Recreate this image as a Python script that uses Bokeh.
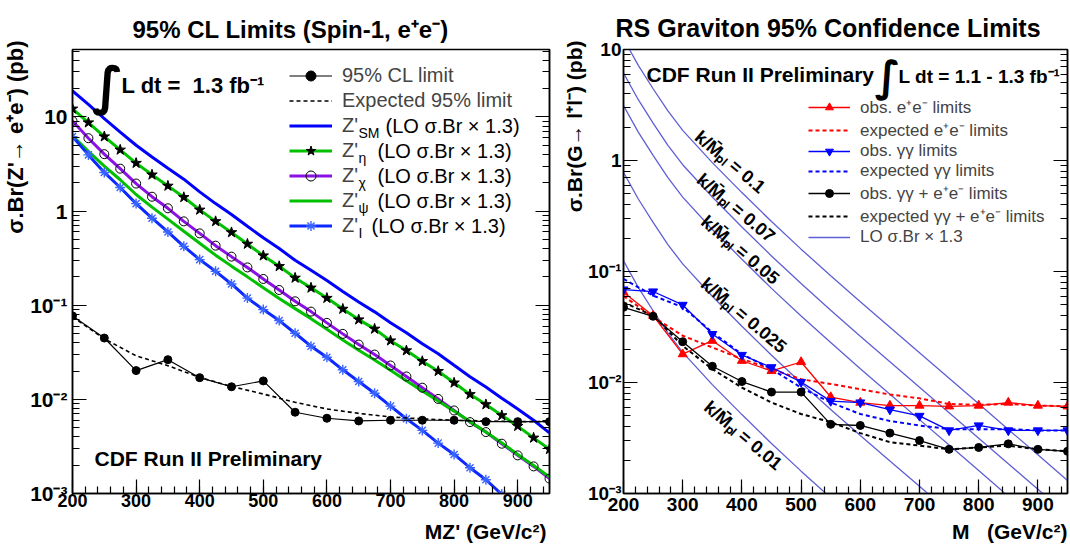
import math
from bokeh.plotting import figure
from bokeh.layouts import row
from bokeh.models import (FixedTicker, CustomJSTickFormatter, LogAxis, Legend, LegendItem, Label,
                          Title)
from bokeh.embed import file_html
from bokeh.resources import INLINE

FONT = "Liberation Sans"
NB = "\u00a0"

# ---------------- left panel: Z' (spin-1, e+e-) ----------------
zp_mass = [200, 225, 250, 275, 300, 325, 350, 375, 400, 425, 450, 475, 500, 525, 550,
           575, 600, 625, 650, 675, 700, 725, 750, 775, 800, 825, 850, 875, 900, 925, 950]
zp_sm = [18.9, 13.6, 9.6, 6.9, 5.0, 3.75, 2.85, 2.18, 1.6, 1.2, 0.92, 0.69, 0.52, 0.40, 0.30,
         0.235, 0.183, 0.14, 0.108, 0.085, 0.065, 0.051, 0.039, 0.0305, 0.023, 0.0174, 0.0135,
         0.0103, 0.0079, 0.006, 0.0044]
zp_eta = [12.2, 8.7, 6.18, 4.47, 3.23, 2.43, 1.85, 1.40, 1.03, 0.777, 0.593, 0.447, 0.336, 0.259,
          0.195, 0.153, 0.119, 0.0912, 0.0703, 0.056, 0.042, 0.033, 0.0254, 0.0199, 0.015, 0.0113,
          0.00883, 0.00675, 0.0052, 0.0039, 0.00295]
zp_chi = [9.07, 5.94, 4.02, 2.82, 1.96, 1.42, 1.07, 0.777, 0.579, 0.429, 0.328, 0.252, 0.19,
          0.145, 0.110, 0.0855, 0.0649, 0.0496, 0.0382, 0.0299, 0.0229, 0.0175, 0.0133, 0.0101,
          0.00762, 0.00573, 0.00449, 0.00338, 0.00254, 0.00194, 0.00144]
zp_psi = [6.3, 4.3, 3.0, 2.15, 1.5, 1.1, 0.82, 0.61, 0.455, 0.34, 0.26, 0.2, 0.153, 0.118, 0.092,
          0.072, 0.0555, 0.0428, 0.0333, 0.0262, 0.0204, 0.0158, 0.0123, 0.0096, 0.0075, 0.0058,
          0.0045, 0.00345, 0.0026, 0.00198, 0.0015]
zp_i = [6.18, 3.95, 2.57, 1.78, 1.2, 0.84, 0.60, 0.422, 0.305, 0.229, 0.168, 0.119, 0.0898,
        0.0687, 0.0504, 0.0367, 0.028, 0.0206, 0.0155, 0.0116, 0.00848, 0.00622, 0.00468,
        0.00343, 0.0026, 0.00188, 0.0014, 0.00098, 0.00072, 0.00053, 0.00039]

lim_mass = [200, 250, 300, 350, 400, 450, 500, 550, 600, 650, 700, 750, 800, 850, 900, 950]
obs_limit = [0.077, 0.0448, 0.0202, 0.0264, 0.0170, 0.0136, 0.0157, 0.0073, 0.0063, 0.0059,
             0.0060, 0.0060, 0.0060, 0.0058, 0.0058, 0.0058]
exp_limit = [0.075, 0.044, 0.029, 0.0228, 0.0171, 0.0137, 0.0114, 0.0093, 0.0079, 0.0071,
             0.0065, 0.0062, 0.0060, 0.0059, 0.0058, 0.0058]

# ---------------- right panel: RS graviton ----------------
g_mass = [200, 250, 300, 350, 400, 450, 500, 550, 600, 650, 700, 750, 800, 850, 900, 950]
ee_obs = [0.065, 0.040, 0.018, 0.0238, 0.0157, 0.0127, 0.0153, 0.0074, 0.0066, 0.0062, 0.0062,
          0.0061, 0.0062, 0.0066, 0.0062, 0.0061]
ee_exp = [0.060, 0.039, 0.0264, 0.0207, 0.0163, 0.0132, 0.0107, 0.0097, 0.0087, 0.0078, 0.0072,
          0.0064, 0.0063, 0.0064, 0.0062, 0.0061]
gg_obs = [0.0687, 0.066, 0.050, 0.0273, 0.0177, 0.0137, 0.0101, 0.0068, 0.0066, 0.0057, 0.0050,
          0.0037, 0.0041, 0.0037, 0.0037, 0.0037]
gg_exp = [0.0857, 0.0607, 0.0477, 0.0283, 0.018, 0.0132, 0.009, 0.0066, 0.0052, 0.0045, 0.0041,
          0.0038, 0.0038, 0.0038, 0.0037, 0.0037]
comb_obs = [0.0476, 0.0395, 0.0233, 0.014, 0.0102, 0.0082, 0.0082, 0.0042, 0.0041, 0.0035,
            0.0030, 0.0025, 0.0026, 0.0028, 0.0025, 0.0024]
comb_exp = [0.0528, 0.040, 0.0214, 0.0132, 0.009, 0.0066, 0.0052, 0.0044, 0.0035, 0.0029,
            0.0027, 0.0025, 0.0026, 0.0027, 0.0025, 0.0024]

lo_mass = [200, 225, 250, 275, 300, 350, 400, 450, 500, 550, 600, 650, 700, 750, 800, 850, 900, 950]
lo_k010 = [12.5, 7.2, 4.43, 2.8, 1.87, 0.957, 0.514, 0.282, 0.159, 0.0915, 0.0533, 0.0314,
           0.0185, 0.0109, 0.00642, 0.00378, 0.00223, 0.00131]
lo_k007 = [6.13, 3.53, 2.17, 1.37, 0.916, 0.469, 0.252, 0.138, 0.0779, 0.0448, 0.0261, 0.0154,
           0.00907, 0.00534, 0.00315, 0.00185, 0.00109, 0.000642]
lo_k005 = [3.13, 1.8, 1.11, 0.7, 0.468, 0.239, 0.129, 0.0705, 0.0398, 0.0229, 0.0133, 0.00785,
           0.00463, 0.00273, 0.00161, 0.000945, 0.000558, 0.000328]
lo_k0025 = [0.781, 0.45, 0.277, 0.175, 0.117, 0.0598, 0.0321, 0.0176, 0.00994, 0.00572, 0.00333,
            0.00196, 0.00116, 0.000681, 0.000401, 0.000236, 0.000139, 0.0000819]
lo_k001 = [0.125, 0.072, 0.0443, 0.028, 0.0187, 0.00957, 0.00514, 0.00282, 0.00159, 0.000915,
           0.000533, 0.000314, 0.000185, 0.000109, 0.0000642, 0.0000378, 0.0000223, 0.0000131]
lo_labels = ["k/M\u0304\u209a\u2097 = 0.1", "k/M\u0304\u209a\u2097 = 0.07", "k/M\u0304\u209a\u2097 = 0.05",
             "k/M\u0304\u209a\u2097 = 0.025", "k/M\u0304\u209a\u2097 = 0.01"]

x_ticks = [200, 300, 400, 500, 600, 700, 800, 900]
y_ticks = [1e-3, 1e-2, 1e-1, 1, 10]

x_minor = [m for m in range(220, 950, 20)]
y_minor = [k * 10.0 ** e for e in range(-3, 2) for k in range(2, 10)]

yfmt_code = """
const e = Math.round(Math.log10(tick));
if (e === 0) return "1";
if (e === 1) return "10";
const s = {"-1": "\u207b\u00b9", "-2": "\u207b\u00b2", "-3": "\u207b\u00b3"};
return "10" + s[String(e)];
"""


def style(p, xfs, yfs, xstand, ystand, gap):
    p.grid.visible = False
    p.outline_line_color = "black"
    p.outline_line_width = 1.5
    p.background_fill_color = "white"
    p.border_fill_color = "white"
    xa = p.xaxis[0]
    xa.ticker = FixedTicker(ticks=x_ticks, minor_ticks=x_minor)
    ya = p.yaxis[0]
    ya.ticker = FixedTicker(ticks=y_ticks, minor_ticks=y_minor)
    ya.formatter = CustomJSTickFormatter(code=yfmt_code)
    for ax, fs in ((xa, xfs), (ya, yfs)):
        ax.major_tick_in = 14
        ax.major_tick_out = 0
        ax.minor_tick_in = 7
        ax.minor_tick_out = 0
        ax.axis_line_width = 1.5
        ax.major_tick_line_width = 1.2
        ax.minor_tick_line_width = 1.2
        ax.major_label_text_font = FONT
        ax.major_label_text_font_style = "bold"
        ax.major_label_text_font_size = fs
        ax.major_label_text_color = "black"
    xa.major_label_standoff = xstand
    ya.major_label_standoff = ystand
    # blank spacer label: pushes the axis title (a Title below) a little further down
    xa.axis_label = NB
    xa.axis_label_text_font_size = "1px"
    xa.axis_label_standoff = gap
    ra = LogAxis(ticker=FixedTicker(ticks=y_ticks, minor_ticks=y_minor),
                 formatter=CustomJSTickFormatter(code="return '';"),
                 major_label_text_font_size="10px", major_tick_in=14, major_tick_out=0,
                 minor_tick_in=7, minor_tick_out=0, axis_line_width=1.5,
                 major_tick_line_width=1.2, minor_tick_line_width=1.2, major_label_standoff=0)
    p.add_layout(ra, "right")


def lab(p, x, y, text, size, bold=True, align="left", angle=0.0, font=FONT, units="screen",
        baseline="middle"):
    p.add_layout(Label(x=x, y=y, x_units=units, y_units=units, text=text, text_font=font,
                       text_font_size=size, text_font_style="bold" if bold else "normal",
                       text_align=align, text_baseline=baseline, angle=angle, text_color="black"))


def title(text, size, align, offset, standoff, valign):
    return Title(text=text, text_font=FONT, text_font_size=size, text_font_style="bold",
                 text_color="black", align=align, offset=offset, standoff=standoff,
                 vertical_align=valign)


# ======================= LEFT =======================
p1 = figure(width=560, height=552, x_range=(200, 950), y_range=(1e-3, 52), y_axis_type="log",
            output_backend="svg", toolbar_location=None, min_border_left=72,
            min_border_right=11, min_border_top=49, min_border_bottom=59)
style(p1, "18px", "21px", 0, 5, 6)
p1.title = title("95% CL Limits (Spin-1, e\u207ae\u207b)", "24px", "left", 60, 14, "bottom")
p1.add_layout(title("\u03c3.Br(Z'\u2192 e\u207ae\u207b) (pb)", "22px", "right", -9, 0, "bottom"), "left")
p1.add_layout(title("MZ' (GeV/c\u00b2)", "21px", "right", 3, 0, "top"), "below")

r_sm = p1.line(zp_mass, zp_sm, line_color="#0000ff", line_width=3)
r_eta = p1.line(zp_mass, zp_eta, line_color="#00c000", line_width=3)
r_chi = p1.line(zp_mass, zp_chi, line_color="#8a10e6", line_width=3)
r_psi = p1.line(zp_mass, zp_psi, line_color="#00c000", line_width=3)
r_i = p1.line(zp_mass, zp_i, line_color="#0a28ff", line_width=3)
r_eta_m = p1.scatter(zp_mass, zp_eta, marker="star", size=11, fill_color="black", line_color="black")
r_chi_m = p1.scatter(zp_mass, zp_chi, marker="circle", size=9, fill_color=None,
                     line_color="black", line_width=1)
r_i_m = p1.scatter(zp_mass, zp_i, marker="asterisk", size=10, line_color="#3a64ff", line_width=1.4)
r_exp = p1.line(lim_mass, exp_limit, line_color="black", line_width=1.6, line_dash="4 3")
r_obs = p1.line(lim_mass, obs_limit, line_color="black", line_width=1.2)
r_obs_m = p1.scatter(lim_mass, obs_limit, marker="circle", size=8, color="black")

leg1 = Legend(items=[
    LegendItem(label="95% CL limit", renderers=[r_obs, r_obs_m]),
    LegendItem(label="Expected 95% limit", renderers=[r_exp]),
    LegendItem(label="Z'", renderers=[r_sm]),
    LegendItem(label="Z'", renderers=[r_eta, r_eta_m]),
    LegendItem(label="Z'", renderers=[r_chi, r_chi_m]),
    LegendItem(label="Z'", renderers=[r_psi]),
    LegendItem(label="Z'", renderers=[r_i, r_i_m]),
], location=(217, 255), orientation="vertical", border_line_color=None,
    background_fill_alpha=0, padding=0, margin=0, spacing=0, label_height=25,
    glyph_height=25, glyph_width=43, label_standoff=10, label_text_font=FONT,
    label_text_font_size="20px")
p1.add_layout(leg1)

subs = ["SM", "\u03b7", "\u03c7", "\u03c8", "I"]
rest_x = [313, 305, 305, 305, 299]
for i, s in enumerate(subs):
    yrow = 368 - 25 * i
    lab(p1, 286, yrow - 7, s, "14px", bold=False)
    lab(p1, rest_x[i], yrow, "(LO \u03c3.Br \u00d7 1.3)", "20px", bold=False)

lab(p1, 35, 408, "\u222b", "52px", font="DejaVu Sans", align="center")
lab(p1, 49, 408, "L dt =" + NB + NB + "1.3 fb\u207b\u00b9", "22px")
lab(p1, 22, 35, "CDF Run II Preliminary", "21px")

# ======================= RIGHT =======================
p2 = figure(width=509, height=552, x_range=(200, 950), y_range=(1e-3, 10), y_axis_type="log",
            output_backend="svg", toolbar_location=None, min_border_left=60,
            min_border_right=2, min_border_top=49, min_border_bottom=58)
style(p2, "19px", "19px", 4, 2, 2)
p2.title = title("RS Graviton 95% Confidence Limits", "25px", "left", -8, 15, "bottom")
p2.add_layout(title("\u03c3.Br(G\u2192 l\u207al\u207b) (pb)", "21px", "right", -9, 0, "bottom"), "left")
p2.add_layout(title("M" + NB * 3 + "(GeV/c\u00b2)", "21px", "right", 0, 0, "top"), "below")

LO_COL = "#5f5fd6"
lo_sets = [lo_k010, lo_k007, lo_k005, lo_k0025, lo_k001]
lo_r = []
for vals in lo_sets:
    lo_r.append(p2.line(lo_mass, vals, line_color=LO_COL, line_width=1.3))

r_ee_e = p2.line(g_mass, ee_exp, line_color="#ff0000", line_width=2, line_dash="4 3")
r_gg_e = p2.line(g_mass, gg_exp, line_color="#0000ff", line_width=2, line_dash="4 3")
r_cb_e = p2.line(g_mass, comb_exp, line_color="black", line_width=2, line_dash="4 3")
r_ee = p2.line(g_mass, ee_obs, line_color="#ff0000", line_width=1.3)
r_ee_m = p2.scatter(g_mass, ee_obs, marker="triangle", size=9, color="#ff0000")
r_gg = p2.line(g_mass, gg_obs, line_color="#0000ff", line_width=1.3)
r_gg_m = p2.scatter(g_mass, gg_obs, marker="inverted_triangle", size=9, color="#0000ff")
r_cb = p2.line(g_mass, comb_obs, line_color="black", line_width=1.3)
r_cb_m = p2.scatter(g_mass, comb_obs, marker="circle", size=8, color="black")

leg2 = Legend(items=[
    LegendItem(label="obs. e\u207ae\u207b limits", renderers=[r_ee, r_ee_m]),
    LegendItem(label="expected e\u207ae\u207b limits", renderers=[r_ee_e]),
    LegendItem(label="obs. \u03b3\u03b3 limits", renderers=[r_gg, r_gg_m]),
    LegendItem(label="expected \u03b3\u03b3 limits", renderers=[r_gg_e]),
    LegendItem(label="obs. \u03b3\u03b3 + e\u207ae\u207b limits", renderers=[r_cb, r_cb_m]),
    LegendItem(label="expected \u03b3\u03b3 + e\u207ae\u207b limits", renderers=[r_cb_e]),
    LegendItem(label="LO \u03c3.Br \u00d7 1.3", renderers=[lo_r[0]]),
], location=(185, 246), orientation="vertical", border_line_color=None,
    background_fill_alpha=0, padding=0, margin=0, spacing=0, label_height=20,
    glyph_height=20, glyph_width=42, label_standoff=10, label_text_font=FONT,
    label_text_font_size="17px")
p2.add_layout(leg2)

lo_lab_x = [380, 390, 397, 403, 402]
lo_lab_y = [0.97, 0.374, 0.156, 0.0403, 0.00333]
for lx, ly, t in zip(lo_lab_x, lo_lab_y, lo_labels):
    lab(p2, lx, ly, t, "18px", align="center", angle=-0.70, units="data")

lab(p2, 23, 419, "CDF Run II Preliminary", "21px")
lab(p2, 264, 417, "\u222b", "42px", font="DejaVu Sans", align="center")
lab(p2, 275, 417, "L dt = 1.1 - 1.3 fb\u207b\u00b9", "19px")

layout = row(p1, p2)
open("out.html", "w").write(file_html(layout, INLINE))
